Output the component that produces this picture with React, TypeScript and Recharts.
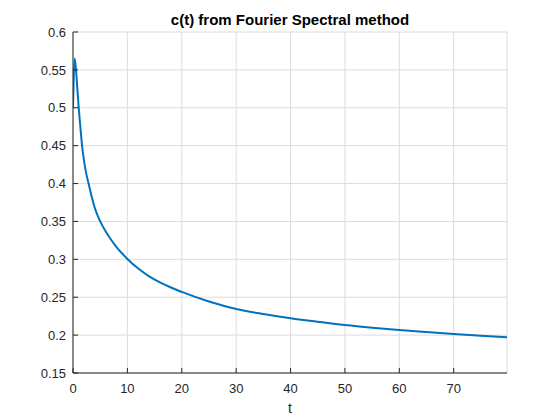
import { LineChart, Line, XAxis, YAxis, CartesianGrid } from 'recharts';

// values
const tValues = [0, 0.3, 0.55, 0.8, 1.05, 1.35, 1.65, 2, 2.4, 2.9, 3.5, 4, 5, 6, 7, 8, 9, 10, 12, 14, 16, 18, 20, 25, 30, 35, 40, 45, 50, 55, 60, 65, 70, 75, 79.8];
const cValues = [0.5, 0.565, 0.55, 0.525, 0.5, 0.475, 0.451, 0.4315, 0.4145, 0.399, 0.381, 0.368, 0.35, 0.337, 0.3258, 0.3162, 0.308, 0.3005, 0.2878, 0.2775, 0.2695, 0.2628, 0.257, 0.2443, 0.2345, 0.2278, 0.2222, 0.2175, 0.2132, 0.2097, 0.2067, 0.204, 0.2015, 0.1993, 0.1972];
const xTicks = [0, 10, 20, 30, 40, 50, 60, 70];
const yTicks = [0.15, 0.2, 0.25, 0.3, 0.35, 0.4, 0.45, 0.5, 0.55, 0.6];

const data = tValues.map((t, i) => ({ t, c: cValues[i] }));

const FONT = '"Liberation Sans", Arial, Helvetica, sans-serif';
const AXIS = '#262626';

export default function App() {
  const tickStyle = { fill: AXIS, fontSize: 13, fontFamily: FONT };
  return (
    <div style={{ position: 'absolute', left: 0, top: 0, width: 560, height: 420, background: '#fff' }}>
      <div
        style={{
          position: 'absolute',
          left: 73,
          width: 434,
          top: 11,
          textAlign: 'center',
          fontFamily: FONT,
          fontWeight: 700,
          fontSize: 15,
          lineHeight: '17px',
          color: '#000',
          whiteSpace: 'nowrap',
        }}
      >
        c(t) from Fourier Spectral method
      </div>
      <LineChart width={560} height={420} data={data} margin={{ top: 32, right: 53, left: 0, bottom: 0 }}>
        <CartesianGrid stroke="#dcdcdc" strokeWidth={1} />
        <XAxis
          dataKey="t"
          type="number"
          domain={[0, 79.8]}
          ticks={xTicks}
          allowDataOverflow
          height={47}
          stroke={AXIS}
          tickSize={-5}
          tickMargin={16}
          tick={tickStyle}
          label={{ value: 't', position: 'insideBottom', offset: 7, fill: AXIS, fontSize: 14, fontFamily: FONT }}
        />
        <XAxis
          xAxisId="top"
          orientation="top"
          dataKey="t"
          type="number"
          domain={[0, 79.8]}
          ticks={xTicks}
          allowDataOverflow
          height={0}
          stroke={AXIS}
          tickSize={-5}
          tick={false}
        />
        <YAxis
          type="number"
          domain={[0.15, 0.6]}
          ticks={yTicks}
          allowDataOverflow
          width={73}
          stroke={AXIS}
          tickSize={-5}
          tickMargin={12}
          tick={tickStyle}
        />
        <YAxis
          yAxisId="right"
          orientation="right"
          type="number"
          domain={[0.15, 0.6]}
          ticks={yTicks}
          allowDataOverflow
          width={0}
          stroke={AXIS}
          tickSize={-5}
          tick={false}
        />
        <Line
          dataKey="c"
          type="monotone"
          stroke="#0072BD"
          strokeWidth={2}
          dot={false}
          activeDot={false}
          isAnimationActive={false}
        />
      </LineChart>
    </div>
  );
}
